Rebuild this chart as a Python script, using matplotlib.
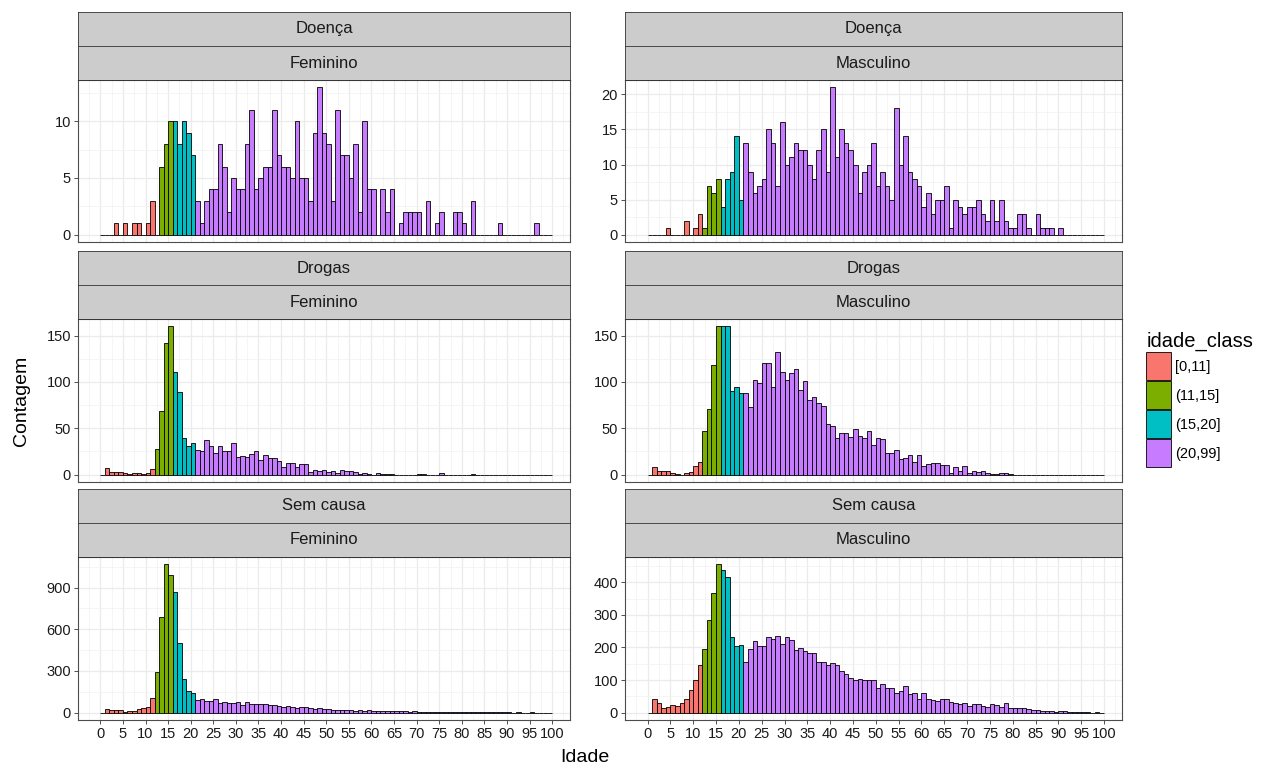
import matplotlib.pyplot as plt
from matplotlib.patches import Patch
from matplotlib.ticker import MultipleLocator

plt.rcParams['font.family'] = ['Liberation Sans', 'DejaVu Sans']

# idade (anos) e contagens por causa / sexo
idade = list(range(100))
classes = ['[0,11]', '(11,15]', '(15,20]', '(20,99]']
cores = ['#F8766D', '#7CAE00', '#00BFC4', '#C77CFF']
causas = ['Doença', 'Drogas', 'Sem causa']
sexos = ['Feminino', 'Masculino']
x_ticks = list(range(0, 101, 5))
y_passos = [[5, 5], [50, 50], [300, 100]]

doenca_fem = [0, 0, 0, 1, 0, 1, 0, 1, 1, 0, 1, 3, 0, 6, 8, 10, 10, 8, 10, 9,
              7, 3, 1, 3, 4, 4, 8, 6, 2, 5, 4, 4, 8, 11, 4, 5, 6, 6, 11, 7,
              6, 6, 5, 10, 5, 5, 3, 9, 13, 9, 8, 3, 11, 7, 7, 5, 8, 2, 10, 4,
              4, 0, 4, 2, 4, 0, 1, 2, 2, 2, 2, 0, 3, 0, 1, 2, 0, 0, 2, 2,
              1, 0, 3, 0, 0, 0, 0, 0, 1, 0, 0, 0, 0, 0, 0, 0, 1, 0, 0, 0]
doenca_masc = [0, 0, 0, 0, 1, 0, 0, 0, 2, 0, 1, 3, 1, 7, 6, 8, 4, 8, 9, 14,
               5, 13, 9, 6, 7, 8, 15, 13, 7, 16, 10, 11, 13, 12, 12, 10, 8, 12, 15, 9,
               21, 11, 15, 13, 12, 10, 6, 9, 10, 13, 7, 9, 7, 5, 18, 10, 14, 9, 8, 7,
               4, 6, 3, 5, 5, 7, 1, 5, 4, 3, 4, 4, 5, 3, 2, 5, 2, 5, 2, 1,
               1, 3, 3, 1, 0, 3, 1, 1, 1, 0, 1, 0, 0, 0, 0, 0, 0, 0, 0, 0]
drogas_fem = [0, 7, 3, 3, 3, 2, 1, 2, 2, 1, 2, 6, 28, 69, 142, 160, 111, 89, 39, 31,
              34, 27, 26, 37, 31, 23, 31, 25, 25, 34, 19, 20, 19, 22, 26, 16, 21, 18, 18, 15,
              8, 13, 12, 8, 11, 11, 3, 5, 4, 5, 3, 4, 2, 5, 4, 4, 3, 1, 2, 1,
              0, 2, 1, 1, 1, 0, 0, 0, 0, 0, 1, 1, 0, 0, 0, 2, 0, 0, 0, 0,
              0, 0, 1, 0, 0, 0, 0, 0, 0, 0, 0, 0, 0, 0, 0, 0, 0, 0, 0, 0]
drogas_masc = [0, 8, 4, 4, 4, 2, 1, 0, 2, 3, 9, 14, 47, 71, 118, 160, 160, 160, 90, 95,
               88, 88, 73, 102, 99, 120, 121, 95, 132, 111, 102, 110, 114, 91, 101, 80, 84, 77, 74, 55,
               52, 40, 45, 45, 41, 49, 42, 40, 47, 32, 39, 38, 23, 23, 27, 17, 18, 21, 14, 21,
               9, 11, 13, 12, 10, 10, 2, 8, 4, 9, 2, 4, 3, 4, 2, 1, 1, 2, 2, 1,
               0, 0, 0, 0, 0, 0, 0, 0, 0, 0, 0, 0, 0, 0, 0, 0, 0, 0, 0, 0]
sem_causa_fem = [0, 27, 20, 20, 17, 7, 10, 15, 25, 32, 37, 104, 291, 686, 1067, 993, 867, 504, 240, 156,
                 138, 94, 99, 81, 81, 96, 69, 79, 72, 67, 74, 52, 74, 59, 62, 59, 64, 54, 52, 49,
                 42, 44, 42, 32, 42, 37, 30, 25, 35, 27, 25, 20, 22, 18, 22, 20, 15, 18, 15, 17,
                 12, 15, 12, 14, 10, 12, 8, 9, 7, 8, 6, 7, 5, 6, 4, 5, 3, 4, 3, 4,
                 5, 3, 2, 3, 2, 2, 1, 1, 1, 1, 1, 0, 1, 0, 0, 1, 0, 0, 0, 0]
sem_causa_masc = [0, 41, 28, 15, 16, 22, 20, 28, 41, 69, 99, 147, 194, 283, 366, 455, 439, 415, 232, 204,
                  208, 155, 195, 219, 206, 206, 231, 225, 235, 212, 231, 222, 193, 198, 189, 184, 184, 156, 154, 146,
                  153, 146, 129, 119, 105, 99, 104, 100, 100, 100, 76, 89, 74, 74, 61, 67, 82, 57, 61, 43,
                  59, 42, 39, 36, 42, 41, 34, 28, 27, 30, 21, 27, 27, 19, 18, 25, 23, 17, 29, 15,
                  15, 15, 13, 12, 8, 7, 5, 6, 4, 3, 5, 4, 2, 1, 2, 1, 1, 0, 1, 0]

dados = [[doenca_fem, doenca_masc], [drogas_fem, drogas_masc], [sem_causa_fem, sem_causa_masc]]


def classe(k):
    if k <= 11:
        return 0
    if k <= 15:
        return 1
    if k <= 20:
        return 2
    return 3


cor_barras = [cores[classe(k)] for k in idade]

W, H = 1262, 765
fig = plt.figure(figsize=(W / 100, H / 100), dpi=100)


def caixa(x0, x1, y0, y1):
    return [x0 / W, 1 - y1 / H, (x1 - x0) / W, (y1 - y0) / H]


colunas = [(78, 570), (625, 1122)]
linhas = [(12, 80, 242), (251, 319, 482), (489, 557, 720)]  # topo strip, topo painel, base painel

for i, causa in enumerate(causas):
    s0, p0, p1 = linhas[i]
    meio = (s0 + p0) / 2
    for j, sexo in enumerate(sexos):
        x0, x1 = colunas[j]
        valores = dados[i][j]
        ax = fig.add_axes(caixa(x0, x1, p0, p1))
        ax.bar(idade, valores, width=1, align='edge', color=cor_barras,
               edgecolor='black', linewidth=0.6, zorder=3)
        m = max(valores)
        ax.set_ylim(-0.05 * m, 1.05 * m)
        ax.set_xlim(-4.95, 103.95)
        ax.set_xticks(x_ticks)
        ax.xaxis.set_minor_locator(MultipleLocator(2.5))
        ax.yaxis.set_major_locator(MultipleLocator(y_passos[i][j]))
        ax.yaxis.set_minor_locator(MultipleLocator(y_passos[i][j] / 2))
        ax.grid(which='major', color='#EBEBEB', lw=0.9, zorder=0)
        ax.grid(which='minor', color='#F2F2F2', lw=0.5, zorder=0)
        ax.set_axisbelow(True)
        ax.tick_params(which='major', length=3, width=0.6, color='#333333',
                       labelsize=10.5, labelcolor='#1A1A1A', pad=2)
        ax.tick_params(which='minor', length=0)
        if i < 2:
            ax.tick_params(axis='x', labelbottom=False, length=0)
        for sp in ax.spines.values():
            sp.set_color('#4D4D4D')
            sp.set_linewidth(0.8)
        # strips
        for k, (ya, yb, txt) in enumerate([(s0, meio, causa), (meio, p0, sexo)]):
            st = fig.add_axes(caixa(x0, x1, ya, yb))
            st.set_facecolor('#CCCCCC')
            st.set_xticks([])
            st.set_yticks([])
            for sp in st.spines.values():
                sp.set_color('#333333')
                sp.set_linewidth(0.6)
            st.text(0.5, 0.5, txt, ha='center', va='center', fontsize=12,
                    color='#1A1A1A', transform=st.transAxes)

fig.text(22 / W, 1 - 401 / H, 'Contagem', rotation=90, ha='center', va='center', fontsize=14)
fig.text(585 / W, 1 - 757 / H, 'Idade', ha='center', va='center', fontsize=14)

alcas = [Patch(facecolor=c, edgecolor='black', linewidth=0.6) for c in cores]
leg = fig.legend(alcas, classes, title='idade_class', loc='upper left',
                 bbox_to_anchor=(1136 / W, 1 - 322 / H), frameon=False,
                 fontsize=10.5, title_fontsize=14.5, handlelength=1.7, handleheight=2.6,
                 labelspacing=0.05, handletextpad=0.3, borderpad=0.2)
leg._legend_box.align = 'left'

fig.savefig('out.png', dpi=100)
